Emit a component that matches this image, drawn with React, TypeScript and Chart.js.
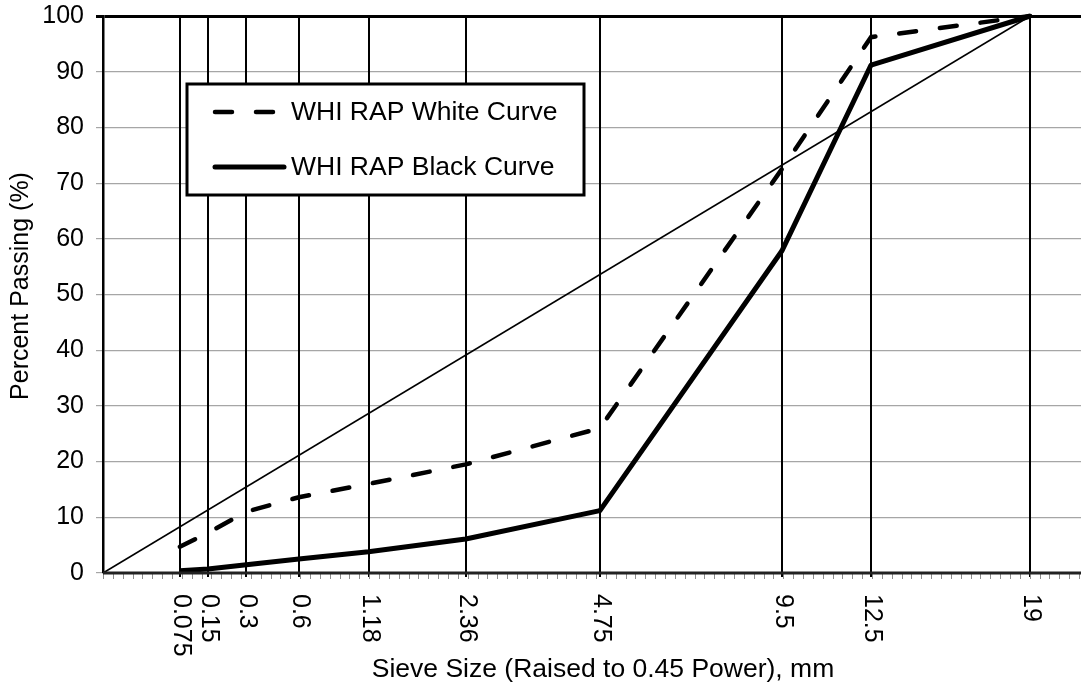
import { useEffect, useRef } from 'react';
import { Chart, registerables } from 'chart.js';

Chart.register(...registerables);

// ---------- data ----------
const EXPONENT = 0.45;
const sieveSizes = [0.075, 0.15, 0.3, 0.6, 1.18, 2.36, 4.75, 9.5, 12.5, 19];
const sieveLabels = ['0.075', '0.15', '0.3', '0.6', '1.18', '2.36', '4.75', '9.5', '12.5', '19'];
const whiteCurve = [4.7, 7.2, 11.0, 13.6, 16.0, 19.5, 26.0, 72.5, 96.2, 100];
const blackCurve = [0.4, 0.7, 1.5, 2.5, 3.8, 6.1, 11.2, 57.8, 91.2, 100];
const maxDensitySieves = [0, 19];
const maxDensityValues = [0, 100];
const yTicks = [0, 10, 20, 30, 40, 50, 60, 70, 80, 90, 100];
const X_MAX = 3.968;
const MINOR_STEP = 0.04;

const seriesLabels = ['WHI RAP White Curve', 'WHI RAP Black Curve'];
const yTitle = 'Percent Passing (%)';
const xTitle = 'Sieve Size (Raised to 0.45 Power), mm';

const FONT = '"Liberation Sans", Arial, Helvetica, sans-serif';

const toX = (s: number) => Math.pow(s, EXPONENT);

const sievePlugin = {
  id: 'sievePlugin',
  beforeDatasetsDraw(chart: any) {
    const { ctx, scales } = chart;
    const x = scales.x;
    const y = scales.y;
    const top = y.getPixelForValue(100);
    const bottom = y.getPixelForValue(0);
    ctx.save();
    ctx.strokeStyle = '#000';
    ctx.lineWidth = 2;
    sieveSizes.forEach((s) => {
      const px = Math.round(x.getPixelForValue(toX(s)));
      ctx.beginPath();
      ctx.moveTo(px, top);
      ctx.lineTo(px, bottom + 4);
      ctx.stroke();
    });
    ctx.restore();
  },
  afterDraw(chart: any) {
    const { ctx, scales, chartArea } = chart;
    const x = scales.x;
    const y = scales.y;
    const y0 = y.getPixelForValue(0);
    ctx.save();

    // minor ticks
    ctx.strokeStyle = '#8c8c8c';
    ctx.lineWidth = 1;
    ctx.beginPath();
    for (let v = 0; v <= X_MAX + 1e-9; v += MINOR_STEP) {
      const px = Math.round(x.getPixelForValue(v)) + 0.5;
      ctx.moveTo(px, y0 + 1);
      ctx.lineTo(px, y0 + 6);
    }
    ctx.stroke();

    // bottom axis line
    ctx.strokeStyle = '#222';
    ctx.lineWidth = 3;
    ctx.beginPath();
    ctx.moveTo(chartArea.left, y0);
    ctx.lineTo(chartArea.right, y0);
    ctx.stroke();

    // x labels (rotated +90deg)
    ctx.fillStyle = '#000';
    ctx.font = `25px ${FONT}`;
    ctx.textAlign = 'left';
    ctx.textBaseline = 'middle';
    sieveSizes.forEach((s, i) => {
      const px = x.getPixelForValue(toX(s));
      ctx.save();
      ctx.translate(px + 1, y0 + 21);
      ctx.rotate(Math.PI / 2);
      ctx.fillText(sieveLabels[i], 0, 0);
      ctx.restore();
    });

    // x title
    ctx.font = `26.5px ${FONT}`;
    ctx.textAlign = 'center';
    ctx.textBaseline = 'alphabetic';
    ctx.fillText(xTitle, 603, 677);

    // y title
    ctx.save();
    ctx.translate(21, 286);
    ctx.rotate(-Math.PI / 2);
    ctx.font = `25px ${FONT}`;
    ctx.textAlign = 'center';
    ctx.textBaseline = 'middle';
    ctx.fillText(yTitle, 0, 0);
    ctx.restore();

    // legend
    const lx = 187, ly = 84, lw = 397, lh = 111;
    ctx.fillStyle = '#fff';
    ctx.fillRect(lx, ly, lw, lh);
    ctx.strokeStyle = '#000';
    ctx.lineWidth = 3;
    ctx.strokeRect(lx, ly, lw, lh);

    const ds = chart.data.datasets;
    const rows = [112, 167];
    [0, 1].forEach((i) => {
      const d = ds[i];
      const ry = rows[i];
      ctx.save();
      ctx.strokeStyle = d.borderColor;
      ctx.lineWidth = d.borderWidth;
      ctx.lineCap = 'round';
      ctx.setLineDash(d.borderDash || []);
      ctx.beginPath();
      ctx.moveTo(215, ry);
      ctx.lineTo(i === 0 ? 278 : 284, ry);
      ctx.stroke();
      ctx.restore();
      ctx.fillStyle = '#000';
      ctx.font = `26.5px ${FONT}`;
      ctx.textAlign = 'left';
      ctx.textBaseline = 'middle';
      ctx.fillText(d.label, 291, ry + 1);
    });

    ctx.restore();
  },
};

export default function App() {
  const canvasRef = useRef<HTMLCanvasElement | null>(null);

  useEffect(() => {
    document.body.style.margin = '0';
    const canvas = canvasRef.current;
    if (!canvas) return;
    const chart = new Chart(canvas, {
      type: 'line',
      data: {
        datasets: [
          {
            label: seriesLabels[0],
            data: sieveSizes.map((s, i) => ({ x: toX(s), y: whiteCurve[i] })),
            borderColor: '#000',
            borderWidth: 4.5,
            borderDash: [17, 24],
            borderCapStyle: 'round',
            pointRadius: 0,
            tension: 0,
            fill: false,
            clip: false,
          } as any,
          {
            label: seriesLabels[1],
            data: sieveSizes.map((s, i) => ({ x: toX(s), y: blackCurve[i] })),
            borderColor: '#000',
            borderWidth: 5,
            borderJoinStyle: 'round',
            pointRadius: 0,
            tension: 0,
            fill: false,
            clip: false,
          } as any,
          {
            label: 'Maximum Density Line',
            data: maxDensitySieves.map((s, i) => ({ x: toX(s), y: maxDensityValues[i] })),
            borderColor: '#000',
            borderWidth: 1.5,
            pointRadius: 0,
            tension: 0,
            fill: false,
            clip: false,
          } as any,
        ],
      },
      options: {
        responsive: false,
        animation: false,
        devicePixelRatio: 1,
        layout: { padding: { left: 0, right: 0, top: 16, bottom: 114 } },
        plugins: {
          legend: { display: false },
          tooltip: { enabled: false },
        },
        scales: {
          x: {
            type: 'linear',
            display: false,
            min: 0,
            max: X_MAX,
          },
          y: {
            type: 'linear',
            min: 0,
            max: 100,
            afterFit: (s: any) => {
              s.width = 103;
              s.paddingTop = 0;
              s.paddingBottom = 0;
            },
            afterBuildTicks: (s: any) => {
              s.ticks = yTicks.map((v) => ({ value: v }));
            },
            ticks: {
              color: '#000',
              font: { family: FONT, size: 25 },
              padding: 12,
            },
            grid: {
              color: (c: any) => (c.tick && c.tick.value === 100 ? '#000' : '#a6a6a6'),
              lineWidth: (c: any) => (c.tick && c.tick.value === 100 ? 3 : 1.2),
              tickLength: 7,
            },
            border: { color: '#000', width: 2.5 },
          },
        },
      } as any,
      plugins: [sievePlugin],
    });
    return () => chart.destroy();
  }, []);

  return <canvas ref={canvasRef} width={1081} height={687} style={{ display: 'block' }} />;
}
